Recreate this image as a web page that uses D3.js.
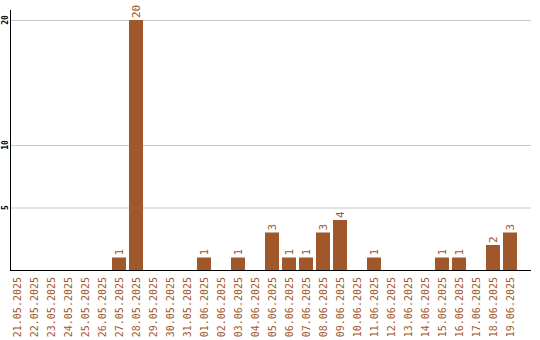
<!DOCTYPE html>
<html><head><meta charset="utf-8">
<script src="https://cdn.jsdelivr.net/npm/d3@7"></script>
<style>body{margin:0;background:#fff}svg{display:block}</style>
</head><body>
<script>
const dates = ["21.05.2025","22.05.2025","23.05.2025","24.05.2025","25.05.2025","26.05.2025","27.05.2025","28.05.2025","29.05.2025","30.05.2025","31.05.2025","01.06.2025","02.06.2025","03.06.2025","04.06.2025","05.06.2025","06.06.2025","07.06.2025","08.06.2025","09.06.2025","10.06.2025","11.06.2025","12.06.2025","13.06.2025","14.06.2025","15.06.2025","16.06.2025","17.06.2025","18.06.2025","19.06.2025"];
const values = [0,0,0,0,0,0,1,20,0,0,0,1,0,1,0,3,1,1,3,4,0,1,0,0,0,1,1,0,2,3];
const yTicks = [5,10,20];

const W=540,H=340;
const color="#a0572a";
const svg=d3.select("body").append("svg").attr("width",W).attr("height",H);
const x=d3.scaleBand().domain(dates).range([10,520]).paddingInner(0).paddingOuter(0);
const y=d3.scaleLinear().domain([0,20]).range([270,20]);
const bw=x.bandwidth()*14/17;

// grid
svg.append("g").selectAll("line").data(yTicks).join("line")
  .attr("x1",10).attr("x2",531).attr("y1",d=>y(d)+0.5).attr("y2",d=>y(d)+0.5)
  .attr("stroke","#c8c8c8").attr("stroke-width",1);

// bars
svg.append("g").selectAll("rect").data(values.map((v,i)=>({d:dates[i],v}))).join("rect")
  .filter(d=>d.v>0)
  .attr("x",d=>x(d.d)).attr("width",bw)
  .attr("y",d=>y(d.v)).attr("height",d=>y(0)-y(d.v))
  .attr("fill",color);

// value labels
svg.append("g").selectAll("text").data(values.map((v,i)=>({d:dates[i],v}))).join("text")
  .filter(d=>d.v>0)
  .attr("transform",d=>`translate(${x(d.d)+bw/2+4},${y(d.v)-2}) rotate(-90)`)
  .attr("font-family","DejaVu Sans Mono").attr("font-size",11)
  .attr("fill",color).text(d=>d.v);

// axes lines
svg.append("line").attr("x1",10.5).attr("x2",10.5).attr("y1",10).attr("y2",270).attr("stroke","#000");
svg.append("line").attr("x1",10).attr("x2",531).attr("y1",270.5).attr("y2",270.5).attr("stroke","#000");

// y tick labels
svg.append("g").selectAll("text").data(yTicks).join("text")
  .attr("transform",d=>`translate(8,${y(d)}) rotate(-90)`)
  .attr("text-anchor","middle")
  .attr("font-family","DejaVu Sans Mono").attr("font-size",8).attr("font-weight","bold")
  .attr("fill","#000").text(d=>d);

// x labels
svg.append("g").selectAll("text").data(dates).join("text")
  .attr("transform",d=>`translate(${x(d)+bw/2+4},277) rotate(-90)`)
  .attr("text-anchor","end")
  .attr("font-family","DejaVu Sans Mono").attr("font-size",10)
  .attr("fill",color).text(d=>d);
</script>
</body></html>
